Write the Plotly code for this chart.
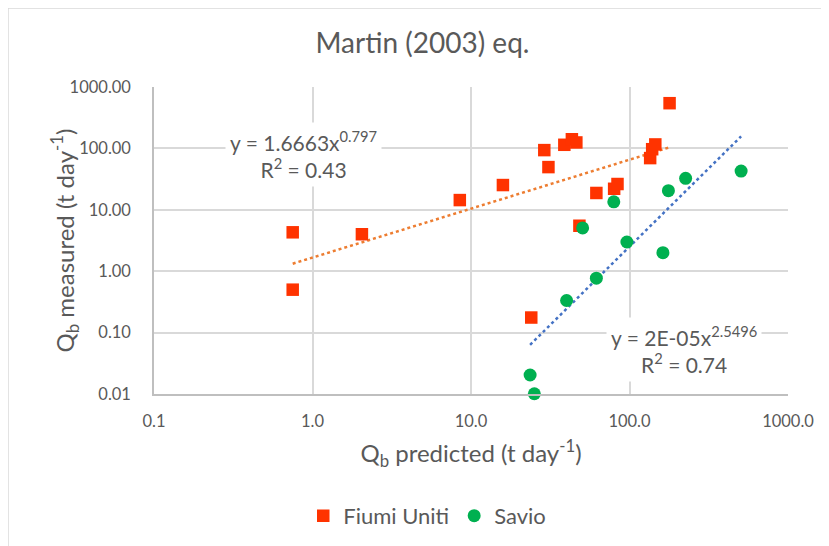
import plotly.graph_objects as go
import numpy as np

# Data
fiumi_x = [0.75, 0.75, 2.05, 8.5, 15.9, 29.0, 30.8, 38.8, 43.3, 46.2, 48.3, 61.8, 80, 84, 24.0, 135, 139, 145.5, 179]
fiumi_y = [4.3, 0.50, 4.0, 14.4, 25.3, 93.8, 49.6, 114.5, 141, 125, 5.5, 18.8, 22, 26.3, 0.176, 69.5, 97, 116, 545]
savio_x = [79.6, 50.6, 96.3, 162.5, 176, 226, 506, 61.8, 40.1, 23.6, 25.1]
savio_y = [13.5, 5.06, 2.99, 2.0, 20.5, 32.5, 42.7, 0.77, 0.333, 0.0204, 0.0101]

fiumi_fit = (1.6663, 0.797, 0.43)
savio_fit = (2e-05, 2.5496, 0.74)

x_ticks = [0.1, 1, 10, 100, 1000]
x_ticktext = ["0.1", "1.0", "10.0", "100.0", "1000.0"]
y_ticks = [0.01, 0.1, 1, 10, 100, 1000]
y_ticktext = ["0.01", "0.10", "1.00", "10.00", "100.00", "1000.00"]

FONT = "Lato"
GREY = "#595959"

def trend(xs, fit):
    a, b, _ = fit
    xx = np.geomspace(min(xs), max(xs), 100)
    return xx, a * xx ** b

fig = go.Figure()

tx, ty = trend(fiumi_x, fiumi_fit)
fig.add_trace(go.Scatter(x=tx, y=ty, mode="lines", showlegend=False,
                         line=dict(color="#ED7D31", width=2.5, dash="dot"), hoverinfo="skip"))
tx2, ty2 = trend(savio_x, savio_fit)
fig.add_trace(go.Scatter(x=tx2, y=ty2, mode="lines", showlegend=False,
                         line=dict(color="#4472C4", width=2.5, dash="dot"), hoverinfo="skip"))

fig.add_trace(go.Scatter(x=fiumi_x, y=fiumi_y, mode="markers", name="Fiumi Uniti",
                         marker=dict(symbol="square", size=12.5, color="#FF3300"), cliponaxis=False))
fig.add_trace(go.Scatter(x=savio_x, y=savio_y, mode="markers", name="Savio",
                         marker=dict(symbol="circle", size=13, color="#00B050"), cliponaxis=False))

fig.add_annotation(x=np.log10(0.873), y=1.90, xref="x", yref="y",
                   text="y = %.4fx<sup>%.3f</sup><br>R<sup>2</sup> = %.2f" % fiumi_fit,
                   showarrow=False, bgcolor="white", borderpad=4,
                   font=dict(family=FONT, size=21, color=GREY))
fig.add_annotation(x=2.346, y=-1.27, xref="x", yref="y",
                   text="y = 2E-05x<sup>%.4f</sup><br>R<sup>2</sup> = %.2f" % savio_fit[1:],
                   showarrow=False, bgcolor="white", borderpad=4,
                   font=dict(family=FONT, size=21, color=GREY))

# y-axis title
fig.add_annotation(x=-0.142, y=0.5, xref="paper", yref="paper", textangle=-90,
                   text="Q<sub>b</sub> measured (t day<sup>-1</sup>)", showarrow=False,
                   xanchor="center", yanchor="middle",
                   font=dict(family=FONT, size=24, color=GREY))

fig.add_shape(type="rect", xref="paper", yref="paper",
              x0=-0.2303, x1=1.3, y0=-0.7, y1=1.257,
              line=dict(color="#d9d9d9", width=1.5), layer="below")

fig.update_layout(
    width=829, height=546,
    margin=dict(l=146, r=49, t=79, b=160, autoexpand=False),
    paper_bgcolor="white", plot_bgcolor="white",
    font=dict(family=FONT, color=GREY),
    title=dict(text="Martin (2003) eq.", x=0.5, xref="container", xanchor="center",
               y=1 - 35/546, yanchor="middle", yref="container",
               font=dict(family=FONT, size=28, color=GREY)),
    legend=dict(orientation="h", x=0.431, xanchor="center",
                y=-0.397, yanchor="middle",
                font=dict(family=FONT, size=22, color=GREY), itemwidth=30),
    showlegend=True,
)
fig.update_xaxes(type="log", range=[-1, 3], tickvals=x_ticks, ticktext=x_ticktext,
                 showgrid=True, gridcolor="#d9d9d9", gridwidth=1.5,
                 showline=True, linecolor="#bfbfbf", linewidth=1.5, mirror=False,
                 ticks="", ticklabelstandoff=11, zeroline=False,
                 tickfont=dict(family=FONT, size=16.5, color=GREY),
                 title=dict(text="Q<sub>b</sub> predicted (t day<sup>-1</sup>)", standoff=16,
                            font=dict(family=FONT, size=24, color=GREY)))
fig.update_yaxes(type="log", range=[-2, 3], tickvals=y_ticks, ticktext=y_ticktext,
                 showgrid=True, gridcolor="#d9d9d9", gridwidth=1.5,
                 showline=True, linecolor="#bfbfbf", linewidth=1.5, mirror=False,
                 ticks="", ticklabelstandoff=18, zeroline=False,
                 tickfont=dict(family=FONT, size=16.5, color=GREY))

fig.write_html("out.html")
